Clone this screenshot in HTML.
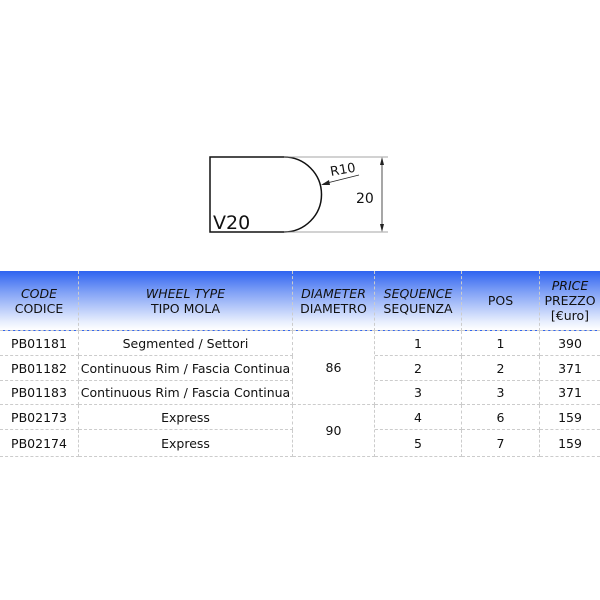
<!DOCTYPE html>
<html><head><meta charset="utf-8"><style>
html,body{margin:0;padding:0;background:#fff;width:600px;height:600px;overflow:hidden}
.c{position:absolute;box-sizing:border-box;display:flex;align-items:center;justify-content:center;text-align:center;font-family:"DejaVu Sans","Liberation Sans",sans-serif;font-size:12.5px;color:#111;line-height:15px;border-right:1px dashed #ccc;border-bottom:1px dashed #ccc}
.h{background:linear-gradient(#2f64f0 0%,#7fa0f6 35%,#e6edfd 85%,#fff 100%)}
i{font-style:italic}
</style></head><body>
<svg width="600" height="270" style="position:absolute;left:0;top:0" xmlns="http://www.w3.org/2000/svg">
<path d="M284 157 H210 V232 H284 A37.5 37.5 0 0 0 284 157" fill="none" stroke="#111" stroke-width="1.5"/>
<line x1="284" y1="157" x2="388" y2="157" stroke="#888" stroke-width="0.8"/>
<line x1="284" y1="232" x2="388" y2="232" stroke="#888" stroke-width="0.8"/>
<line x1="382" y1="160" x2="382" y2="229" stroke="#222" stroke-width="0.8"/>
<polygon points="382,157 380,165 384,165" fill="#222"/>
<polygon points="382,232 380,224 384,224" fill="#222"/>
<line x1="359" y1="175" x2="323" y2="184" stroke="#222" stroke-width="0.8"/>
<polygon points="321,185 329,180 330,185" fill="#222"/>
<text x="331" y="176" font-family="DejaVu Sans,sans-serif" font-size="13" fill="#111" transform="rotate(-10 331 176)">R10</text>
<text x="356" y="203" font-family="DejaVu Sans,sans-serif" font-size="14" fill="#111">20</text>
<text x="213" y="229" font-family="DejaVu Sans,sans-serif" font-size="19" fill="#111">V20</text>
</svg>
<div class="c h" style="left:0;top:271px;width:79px;height:60px"><div><i>CODE</i><br>CODICE</div></div>
<div class="c h" style="left:79px;top:271px;width:214px;height:60px"><div><i>WHEEL TYPE</i><br>TIPO MOLA</div></div>
<div class="c h" style="left:293px;top:271px;width:82px;height:60px"><div><i>DIAMETER</i><br>DIAMETRO</div></div>
<div class="c h" style="left:375px;top:271px;width:87px;height:60px"><div><i>SEQUENCE</i><br>SEQUENZA</div></div>
<div class="c h" style="left:462px;top:271px;width:78px;height:60px"><div>POS</div></div>
<div class="c h" style="left:540px;top:271px;width:60px;height:60px;border-right:0"><div><i>PRICE</i><br>PREZZO<br>[€uro]</div></div>

<div class="c" style="left:0;top:331px;width:79px;height:25px">PB01181</div>
<div class="c" style="left:79px;top:331px;width:214px;height:25px">Segmented / Settori</div>
<div class="c" style="left:375px;top:331px;width:87px;height:25px">1</div>
<div class="c" style="left:462px;top:331px;width:78px;height:25px">1</div>
<div class="c" style="left:540px;top:331px;width:60px;height:25px;border-right:0">390</div>

<div class="c" style="left:0;top:356px;width:79px;height:25px">PB01182</div>
<div class="c" style="left:79px;top:356px;width:214px;height:25px">Continuous Rim / Fascia Continua</div>
<div class="c" style="left:375px;top:356px;width:87px;height:25px">2</div>
<div class="c" style="left:462px;top:356px;width:78px;height:25px">2</div>
<div class="c" style="left:540px;top:356px;width:60px;height:25px;border-right:0">371</div>

<div class="c" style="left:0;top:381px;width:79px;height:24px">PB01183</div>
<div class="c" style="left:79px;top:381px;width:214px;height:24px">Continuous Rim / Fascia Continua</div>
<div class="c" style="left:375px;top:381px;width:87px;height:24px">3</div>
<div class="c" style="left:462px;top:381px;width:78px;height:24px">3</div>
<div class="c" style="left:540px;top:381px;width:60px;height:24px;border-right:0">371</div>

<div class="c" style="left:0;top:405px;width:79px;height:25px">PB02173</div>
<div class="c" style="left:79px;top:405px;width:214px;height:25px">Express</div>
<div class="c" style="left:375px;top:405px;width:87px;height:25px">4</div>
<div class="c" style="left:462px;top:405px;width:78px;height:25px">6</div>
<div class="c" style="left:540px;top:405px;width:60px;height:25px;border-right:0">159</div>

<div class="c" style="left:0;top:430px;width:79px;height:27px">PB02174</div>
<div class="c" style="left:79px;top:430px;width:214px;height:27px">Express</div>
<div class="c" style="left:375px;top:430px;width:87px;height:27px">5</div>
<div class="c" style="left:462px;top:430px;width:78px;height:27px">7</div>
<div class="c" style="left:540px;top:430px;width:60px;height:27px;border-right:0">159</div>

<div class="c" style="left:293px;top:331px;width:82px;height:74px">86</div>
<div class="c" style="left:293px;top:405px;width:82px;height:52px">90</div>
</body></html>
